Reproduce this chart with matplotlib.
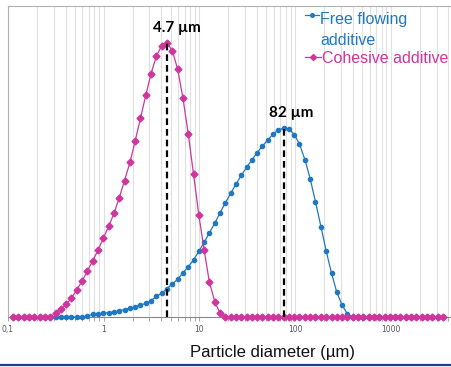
import matplotlib.pyplot as plt
from matplotlib.lines import Line2D
from matplotlib.ticker import FixedLocator, FixedFormatter, LogLocator, NullFormatter
import numpy as np

# size classes (um) of the laser diffraction instrument
diametro = [0.113, 0.128, 0.146, 0.166, 0.188, 0.214, 0.243, 0.276, 0.314, 0.357,
            0.405, 0.460, 0.523, 0.594, 0.675, 0.767, 0.872, 0.991, 1.13, 1.28,
            1.45, 1.65, 1.88, 2.13, 2.42, 2.75, 3.12, 3.55, 4.03, 4.58,
            5.21, 5.92, 6.72, 7.64, 8.68, 9.86, 11.2, 12.7, 14.5, 16.4,
            18.7, 21.2, 24.1, 27.4, 31.1, 35.3, 40.1, 45.6, 51.8, 58.9,
            66.9, 76.0, 86.4, 98.1, 111, 127, 144, 163, 186, 211,
            240, 272, 310, 352, 400, 454, 516, 586, 666, 756,
            859, 976, 1110, 1260, 1430, 1630, 1850, 2100, 2390, 2710,
            3080, 3500]

# volume density (%) - free flowing additive
free_flowing = [0, 0, 0, 0, 0, 0, 0, 0, 0, 0,
                0, 0, 0, 0, 0.03, 0.10, 0.12, 0.14, 0.16, 0.18,
                0.23, 0.27, 0.32, 0.37, 0.43, 0.50, 0.60, 0.75, 0.86, 1.04,
                1.20, 1.38, 1.61, 1.83, 2.08, 2.40, 2.72, 3.07, 3.43, 3.80,
                4.17, 4.51, 4.85, 5.17, 5.46, 5.73, 6.00, 6.24, 6.46, 6.68,
                6.83, 6.89, 6.86, 6.66, 6.31, 5.73, 5.03, 4.21, 3.30, 2.41,
                1.60, 0.91, 0.43, 0.11, 0, 0, 0, 0, 0, 0,
                0, 0, 0, 0, 0, 0, 0, 0, 0, 0,
                0, 0]

# volume density (%) - cohesive additive
cohesive = [0, 0, 0, 0, 0, 0, 0, 0, 0.14, 0.28,
            0.46, 0.69, 0.99, 1.31, 1.68, 2.05, 2.44, 2.87, 3.32, 3.78,
            4.34, 4.98, 5.64, 6.42, 7.25, 8.09, 8.88, 9.52, 9.90, 10.01,
            9.72, 9.05, 8.00, 6.69, 5.21, 3.72, 2.44, 1.28, 0.55, 0.14,
            0, 0, 0, 0, 0, 0, 0, 0, 0, 0,
            0, 0, 0, 0, 0, 0, 0, 0, 0, 0,
            0, 0, 0, 0, 0, 0, 0, 0, 0, 0,
            0, 0, 0, 0, 0, 0, 0, 0, 0, 0,
            0, 0]

ticks_x = [0.1, 1, 10, 100, 1000]
ticks_txt = ['0,1', '1', '10', '100', '1000']
rotulo_ff = '4.7 µm'
rotulo_ff2 = '82 µm'

azul = '#1f78c1'
rosa = '#d0359e'
W, H = 452, 367

fig = plt.figure(figsize=(W / 100, H / 100), dpi=100)
ax = fig.add_axes([8 / W, 50 / H, 444 / W, 311 / H])

ax.plot(diametro, free_flowing, color=azul, lw=0.9, marker='o', ms=3.0,
        clip_on=False, zorder=3)
ax.plot(diametro, cohesive, color=rosa, lw=0.9, marker='D', ms=3.5,
        clip_on=False, zorder=4)

ax.set_xscale('log')
ax.set_xlim(0.1, 4355)
ax.set_ylim(0, 11.35)

# linhas tracejadas nos picos
for serie, txt, dx in [(cohesive, rotulo_ff, 10), (free_flowing, rotulo_ff2, 7)]:
    i = int(np.argmax(serie))
    ax.plot([diametro[i], diametro[i]], [0, serie[i]], color='k', lw=1.6,
            dashes=(3, 1.8), zorder=5)
    ax.annotate(txt, (diametro[i], serie[i]), xytext=(dx, 15),
                textcoords='offset pixels', ha='center', va='center',
                fontsize=11, fontweight='bold', family=['Lato', 'DejaVu Sans'])

ax.xaxis.set_major_locator(FixedLocator(ticks_x))
ax.xaxis.set_major_formatter(FixedFormatter(ticks_txt))
ax.xaxis.set_minor_locator(LogLocator(base=10, subs=np.arange(2, 10)))
ax.xaxis.set_minor_formatter(NullFormatter())
ax.tick_params(axis='x', which='both', length=3, width=0.6, color='#999999',
               labelsize=5.5, labelcolor='#555555', pad=3)
ax.set_yticks([])
ax.grid(True, axis='x', which='both', color='#e0e0e0', lw=0.8)
ax.set_axisbelow(True)

ax.spines['right'].set_visible(False)
ax.spines['left'].set_color('#b0b0b0')
ax.spines['top'].set_color('#b0b0b0')
ax.spines['bottom'].set_color('#888888')
for s in ax.spines.values():
    s.set_linewidth(0.8)

fonte = ['Liberation Sans', 'DejaVu Sans']
fig.text(273 / W, 1 - 352 / H, 'Particle diameter (µm)', ha='center', va='center',
         fontsize=12, family=fonte, color='#111111')

# legenda manual
fig.add_artist(Line2D([305 / W, 312 / W, 319 / W], [1 - 15 / H] * 3, color=azul,
                      lw=0.9, marker='o', ms=2.6, markevery=[1],
                      transform=fig.transFigure))
fig.add_artist(Line2D([305 / W, 313 / W, 321 / W], [1 - 57 / H] * 3, color=rosa,
                      lw=0.9, marker='D', ms=3, markevery=[1],
                      transform=fig.transFigure))
fig.text(320 / W, 1 - 24 / H, 'Free flowing', fontsize=11.5, family=fonte,
         color=azul, va='baseline')
fig.text(320 / W, 1 - 45 / H, 'additive', fontsize=11.5, family=fonte,
         color=azul, va='baseline')
fig.text(322 / W, 1 - 63 / H, 'Cohesive additive', fontsize=11.5, family=fonte,
         color=rosa, va='baseline')

# faixa azul do slide
fig.add_artist(Line2D([0, 1], [1 - 365 / H, 1 - 365 / H], color='#1c3d8c', lw=1.6,
                      transform=fig.transFigure))

plt.savefig('out.png', dpi=100)
